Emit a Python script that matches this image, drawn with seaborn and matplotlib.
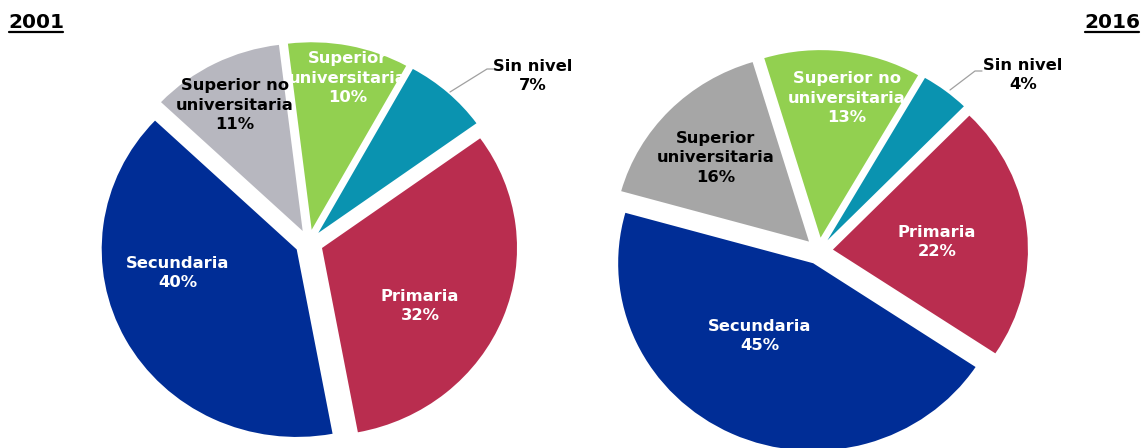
import matplotlib
matplotlib.use('Agg')
import matplotlib.pyplot as plt
import seaborn as sns

# datos
niveles_2001 = ['Sin nivel', 'Primaria', 'Secundaria', 'Superior no\nuniversitaria', 'Superior\nuniversitaria']
valores_2001 = [7, 32, 40, 11, 10]
niveles_2016 = ['Sin nivel', 'Primaria', 'Secundaria', 'Superior\nuniversitaria', 'Superior no\nuniversitaria']
valores_2016 = [4, 22, 45, 16, 13]

sns.set_style('white')
plt.rcParams['font.family'] = ['DejaVu Sans']

teal, rojo, azul, verde = '#0A93B0', '#B92D4F', '#002D96', '#92D050'
colores_2001 = [teal, rojo, azul, '#B7B7BF', verde]
colores_2016 = [teal, rojo, azul, '#A6A6A6', verde]
txt_2001 = ['black', 'white', 'white', 'black', 'white']
txt_2016 = ['black', 'white', 'white', 'black', 'white']

W, H = 1145, 448
SY = 1.04  # las tortas originales estan un poco achatadas
fig = plt.figure(figsize=(W / 100, H / 100), dpi=100)
ax = fig.add_axes([0, 0, 1, 1])

R = 195
EXP = 14  # en unidades de datos


def py(y):
    # pixel (desde arriba) -> coordenada y de datos
    return (H - y) * SY


def dibujar(valores, niveles, colores, txtcol, centro, inicio, pos_labels, guia):
    ax.pie(valores, colors=colores, explode=[EXP] * len(valores), startangle=inicio,
           counterclock=False, center=(centro[0], py(centro[1])), radius=R,
           wedgeprops=dict(linewidth=0))
    for nom, v, c, (x, y) in zip(niveles, valores, txtcol, pos_labels):
        ax.text(x, py(y), f'{nom}\n{v}%', ha='center', va='center', color=c,
                fontsize=11.8, fontweight='bold', linespacing=1.38)
    xs, ys = zip(*guia)
    ax.plot(xs, [py(y) for y in ys], color='#A0A0A0', lw=0.9)


dibujar(valores_2001, niveles_2001, colores_2001, txt_2001, (309, 243), 61,
        [(533, 76), (420, 306), (178, 273), (235, 105), (348, 78)],
        [(450, 92), (487, 69), (494, 69)])
dibujar(valores_2016, niveles_2016, colores_2016, txt_2016, (819, 251), 60,
        [(1023, 75), (937, 242), (760, 336), (716, 158), (847, 98)],
        [(950, 90), (975, 71), (982, 71)])

ax.set_xlim(0, W)
ax.set_ylim(0, H * SY)
ax.set_aspect('auto')
ax.axis('off')

t1 = ax.text(8, py(22), '2001', ha='left', va='center', fontsize=14.5,
             fontweight='bold', color='black')
t2 = ax.text(1140, py(22), '2016', ha='right', va='center', fontsize=14.5,
             fontweight='bold', color='black')
fig.canvas.draw()
inv = ax.transData.inverted()
for t in (t1, t2):
    bb = t.get_window_extent()
    (x0, y0), (x1, _) = inv.transform([(bb.x0 + 1, bb.y0 - 1), (bb.x1 - 1, bb.y0 - 1)])
    ax.plot([x0, x1], [y0, y0], color='black', lw=1.6)

fig.savefig('out.png', dpi=100, facecolor='white')
